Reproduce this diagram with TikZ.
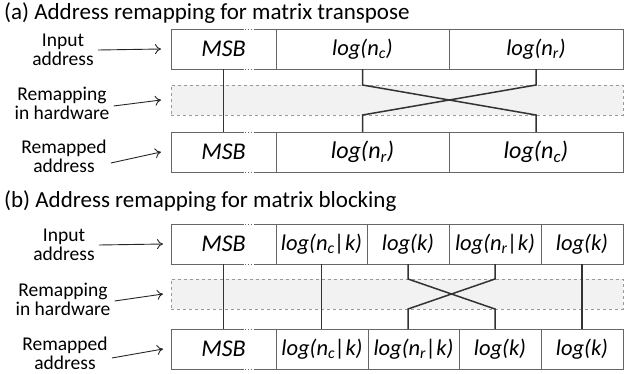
\documentclass[tikz,border=0pt]{standalone}
\usepackage{fontspec}
\setmainfont{Carlito}
\usetikzlibrary{arrows.meta,positioning}

\tikzset{
  field/.style={draw=black!60, line width=0.8pt, minimum height=40pt, inner sep=0pt, outer sep=0pt,
    font=\fontsize{22.5}{26}\selectfont\itshape},
  big/.style={font=\fontsize{24}{28}\selectfont\itshape},
  hwband/.style={draw=black!40, dashed, line width=0.7pt, fill=black!5, minimum height=30pt,
    minimum width=452pt, inner sep=0pt, outer sep=0pt},
  wire/.style={draw=black!80, line width=1.5pt},
  caption/.style={align=center, font=\fontsize{19.5}{19}\selectfont, inner sep=4pt},
  pointer/.style={-{To[length=6pt,width=10pt]}, line width=0.9pt, black!85},
  heading/.style={anchor=base west, font=\fontsize{23}{27}\selectfont, inner sep=0pt}
}

\begin{document}
\begin{tikzpicture}[x=1pt, y=-1pt]
  \useasboundingbox (0,0) rectangle (633,373);

  % (a) transpose
  \node[heading] (titleA) at (4,19) {(a) Address remapping for matrix transpose};

  \node[field, big, minimum width=105pt, anchor=north west] (msbA) at (171,29) {MSB};
  \node[field, minimum width=173pt, right=0pt of msbA] (ncA) {log(n\textsubscript{c})};
  \node[field, minimum width=174pt, right=0pt of ncA] (nrA) {log(n\textsubscript{r})};

  \node[hwband, anchor=north west] (hwA) at (171,85) {};

  \node[field, big, minimum width=105pt, anchor=north west] (rmsbA) at (171,132) {MSB};
  \node[field, big, minimum width=173pt, right=0pt of rmsbA] (rnrA) {log(n\textsubscript{r})};
  \node[field, big, minimum width=174pt, right=0pt of rnrA] (rncA) {log(n\textsubscript{c})};

  \draw[wire] (msbA.south) -- (rmsbA.north);
  \draw[wire] (ncA.south) -- (ncA.south |- hwA.north) -- (nrA.south |- hwA.south) -- (nrA.south |- rmsbA.north);
  \draw[wire] (nrA.south) -- (nrA.south |- hwA.north) -- (ncA.south |- hwA.south) -- (ncA.south |- rmsbA.north);

  \node[caption] (lblInA) at (63,50) {Input\\address};
  \node[caption] (lblHwA) at (62,103) {Remapping\\in hardware};
  \node[caption] (lblOutA) at (64,156) {Remapped\\address};
  \draw[pointer] (lblInA.east) -- ([xshift=-10pt]msbA.west);
  \draw[pointer] ([yshift=-3pt]lblHwA.east) -- ([xshift=-10pt]hwA.west);
  \draw[pointer] ([yshift=-7pt]lblOutA.east) -- ([xshift=-10pt]rmsbA.west);

  % (b) blocking
  \node[heading] (titleB) at (4,207) {(b) Address remapping for matrix blocking};

  \node[field, big, minimum width=105pt, anchor=north west] (msbB) at (171,224) {MSB};
  \node[field, minimum width=91pt, right=0pt of msbB] (nckB) {log(n\textsubscript{c}|k)};
  \node[field, minimum width=82pt, right=0pt of nckB] (kaB) {log(k)};
  \node[field, minimum width=92pt, right=0pt of kaB] (nrkB) {log(n\textsubscript{r}|k)};
  \node[field, minimum width=82pt, right=0pt of nrkB] (kbB) {log(k)};

  \node[hwband, anchor=north west] (hwB) at (171,279) {};

  \node[field, big, minimum width=105pt, anchor=north west] (rmsbB) at (171,329) {MSB};
  \node[field, minimum width=92pt, right=0pt of rmsbB] (rnckB) {log(n\textsubscript{c}|k)};
  \node[field, minimum width=91pt, right=0pt of rnckB] (rnrkB) {log(n\textsubscript{r}|k)};
  \node[field, minimum width=82pt, right=0pt of rnrkB] (rkaB) {log(k)};
  \node[field, minimum width=82pt, right=0pt of rkaB] (rkbB) {log(k)};

  \draw[wire] (msbB.south) -- (rmsbB.north);
  \draw[wire] (nckB.south) -- (nckB.south |- rmsbB.north);
  \draw[wire] (kaB.south) -- (kaB.south |- hwB.north) -- (nrkB.south |- hwB.south) -- (nrkB.south |- rmsbB.north);
  \draw[wire] (nrkB.south) -- (nrkB.south |- hwB.north) -- (kaB.south |- hwB.south) -- (kaB.south |- rmsbB.north);
  \draw[wire] (kbB.south) -- (kbB.south |- rmsbB.north);

  \node[caption] (lblInB) at (64,245) {Input\\address};
  \node[caption] (lblHwB) at (63,299) {Remapping\\in hardware};
  \node[caption] (lblOutB) at (65,353) {Remapped\\address};
  \draw[pointer] (lblInB.east) -- ([xshift=-8pt]msbB.west);
  \draw[pointer] ([yshift=-2pt]lblHwB.east) -- ([xshift=-8pt]hwB.west);
  \draw[pointer] ([yshift=-5pt]lblOutB.east) -- ([xshift=-8pt]rmsbB.west);

  % dotted breaks in the MSB borders
  \foreach \n in {msbA,rmsbA,msbB,rmsbB}
    \foreach \a in {north,south} {
      \draw[white, line width=1.6pt] ([xshift=19pt]\n.\a) -- ([xshift=30pt]\n.\a);
      \draw[black!60, dotted, line width=0.8pt] ([xshift=19pt]\n.\a) -- ([xshift=30pt]\n.\a);
    }
\end{tikzpicture}
\end{document}
